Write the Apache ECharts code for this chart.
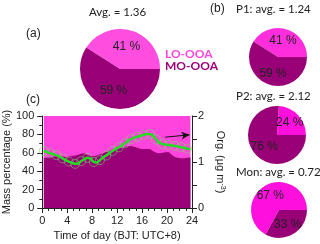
<!DOCTYPE html>
<html><head><meta charset="utf-8">
<script src="https://cdn.jsdelivr.net/npm/echarts@6/dist/echarts.min.js"></script>
<style>html,body{margin:0;padding:0;background:#fff}#c{width:320px;height:244px}</style>
</head><body><div id="c"></div>
<script>
// ---- data ----
const hours = [0.25,0.75,1.25,1.75,2.25,2.75,3.25,3.75,4.25,4.75,5.25,5.75,6.25,6.75,7.25,7.75,8.25,8.75,9.25,9.75,10.25,10.75,11.25,11.75,12.25,12.75,13.25,13.75,14.25,14.75,15.25,15.75,16.25,16.75,17.25,17.75,18.25,18.75,19.25,19.75,20.25,20.75,21.25,21.75,22.25,22.75,23.25,23.75];
const moPct = [54,55,55.5,56,56,56,56,55.5,56,56.5,57,58,59,59.5,57.5,56.5,56.5,57,58.5,59.5,61,62,62.5,63.5,64.5,65.5,66.5,67,67.5,66.5,65.5,64.5,64,64,64,62,60,59.5,60,60.5,61,58,55.5,54.5,54,54,54.5,55];
const orgConc = [1.24,1.22,1.19,1.17,1.15,1.12,1.08,1.04,1.01,0.98,0.96,0.97,1.02,1.06,1.09,1.07,1.00,0.99,1.04,1.10,1.14,1.19,1.24,1.28,1.32,1.36,1.41,1.46,1.50,1.53,1.55,1.57,1.59,1.61,1.61,1.57,1.49,1.42,1.39,1.38,1.37,1.36,1.35,1.34,1.32,1.31,1.29,1.28];
const pieNames = ['LO-OOA','MO-OOA'];
const pieAll = [41,59];
const pieP1 = [41,59];
const pieP2 = [24,76];
const pieMon = [67,33];
const arrowPts = [[19.7,1.54],[23.6,1.59]];
const xTicks = [0,4,8,12,16,20,24];

// ---- build ----
const PINK='#FF44DD', PURPLE='#990077';
const loPct = moPct.map(v => 100 - v);
const moData = hours.map((h,i)=>[h,moPct[i]]);
const loTopData = hours.map((h,i)=>[h,moPct[i]+loPct[i]]);
const orgData = hours.map((h,i)=>[h,orgConc[i]]);
const orgMarkers = orgData.filter((_,i)=>i%2===0);
const axisCol = '#222';
const F = 'Liberation Sans';
const T = 'Lato';

function pie(vals, center, r, pink){
  return {
    type:'pie', center:center, radius:r, startAngle: vals[0]*3.6, clockwise:true,
    silent:true, animation:false,
    label:{show:true, position:'inside', formatter:'{c} %', color:'#222', fontSize:12, fontFamily:F},
    labelLine:{show:false},
    itemStyle:{borderWidth:0},
    data:[{name:pieNames[0], value:vals[0], itemStyle:{color:pink}},
          {name:pieNames[1], value:vals[1], itemStyle:{color:PURPLE}}]
  };
}
const tstyle = {fontFamily:T,fontSize:11.5,fontWeight:'normal',color:'#222'};

const chart = echarts.init(document.getElementById('c'), null, {renderer:'canvas'});
chart.setOption({
  animation:false,
  textStyle:{fontFamily:F},
  title:[
    {text:'Avg. = 1.36', left:89, top:6, padding:0, textStyle:tstyle},
    {text:'(a)', left:26, top:28, padding:0, textStyle:{fontFamily:F,fontSize:12,fontWeight:'normal',color:'#222'}},
    {text:'(b)', left:210, top:3, padding:0, textStyle:{fontFamily:F,fontSize:12,fontWeight:'normal',color:'#222'}},
    {text:'P1: avg. = 1.24', left:236, top:3, padding:0, textStyle:tstyle},
    {text:'LO-OOA', left:165, top:48, padding:0, textStyle:{fontFamily:T,fontSize:12,fontWeight:'bold',color:PINK}},
    {text:'MO-OOA', left:165, top:60, padding:0, textStyle:{fontFamily:T,fontSize:12,fontWeight:'bold',color:PURPLE}},
    {text:'P2: avg. = 2.12', left:236, top:90, padding:0, textStyle:tstyle},
    {text:'Mon: avg. = 0.72', left:236, top:166, padding:0, textStyle:tstyle},
    {text:'(c)', left:26, top:94, padding:0, textStyle:{fontFamily:F,fontSize:12,fontWeight:'normal',color:'#222'}}
  ],
  grid:{left:40, right:128, top:116, bottom:36, containLabel:false},
  xAxis:{
    type:'value', min:0, max:24, interval:4,
    name:'Time of day (BJT: UTC+8)', nameLocation:'middle', nameGap:22,
    nameTextStyle:{fontFamily:F, fontSize:11, color:axisCol},
    axisLine:{show:true, lineStyle:{color:axisCol, width:1}},
    axisTick:{show:true, inside:false, length:5, lineStyle:{color:axisCol}},
    minorTick:{show:true, splitNumber:4, length:3, lineStyle:{color:axisCol}},
    axisLabel:{color:axisCol, fontSize:11, fontFamily:F, margin:7,
      formatter:v => xTicks.indexOf(v) >= 0 ? String(v) : ''},
    splitLine:{show:false}
  },
  yAxis:[
    {type:'value', min:0, max:100, interval:20, position:'left',
     name:'Mass percentage (%)', nameLocation:'middle', nameGap:27, nameRotate:90,
     nameTextStyle:{fontFamily:F, fontSize:11, color:axisCol},
     axisLine:{show:true, lineStyle:{color:axisCol}},
     axisTick:{show:true, length:5, lineStyle:{color:axisCol}},
     minorTick:{show:true, splitNumber:2, length:3, lineStyle:{color:axisCol}},
     axisLabel:{color:axisCol, fontSize:11, fontFamily:F, margin:8},
     splitLine:{show:false}},
    {type:'value', min:0, max:2, interval:1, position:'right',
     name:'Org. (µg m{s|-3})', nameLocation:'middle', nameGap:22, nameRotate:-90,
     nameTextStyle:{fontFamily:F, fontSize:11, color:axisCol, rich:{s:{fontSize:7, fontFamily:F, color:axisCol, verticalAlign:'top', padding:[0,0,5,0]}}},
     axisLine:{show:true, lineStyle:{color:axisCol}},
     axisTick:{show:true, length:5, lineStyle:{color:axisCol}},
     minorTick:{show:true, splitNumber:2, length:5, lineStyle:{color:axisCol}},
     axisLabel:{color:axisCol, fontSize:11, fontFamily:F, margin:6},
     splitLine:{show:false}}
  ],
  series:[
    {type:'line', name:'LO-OOA %', data:loTopData, symbol:'none', silent:true,
     lineStyle:{width:0}, areaStyle:{color:PINK, opacity:1, origin:'start'}, z:1},
    {type:'line', name:'MO-OOA %', data:moData, symbol:'none', silent:true,
     lineStyle:{width:0}, areaStyle:{color:PURPLE, opacity:1, origin:'start'}, z:2},
    {type:'scatter', name:'Org pts', yAxisIndex:1, data:orgMarkers, symbol:'circle', symbolSize:9,
     itemStyle:{color:'rgba(0,0,0,0)', borderColor:'#7AD66A', borderWidth:0.7}, z:3, silent:true},
    {type:'line', name:'Org.', yAxisIndex:1, data:orgData, smooth:0.3, symbol:'none',
     lineStyle:{color:'#22DD22', width:2.5}, z:4, silent:true,
     markLine:{silent:true, symbol:['none','arrow'], symbolSize:[6,8],
       lineStyle:{color:'#111', width:1, type:'solid'}, label:{show:false},
       data:[[{coord:arrowPts[0]},{coord:arrowPts[1]}]]}},
    pie(pieAll, [120,69], 40, '#FF4DE0'),
    pie(pieP1, [278,57], 29, '#FF2EDD'),
    pie(pieP2, [277,135], 29, '#FF10DD'),
    pie(pieMon, [279,210], 28, '#FF10DD')
  ]
});
</script></body></html>
